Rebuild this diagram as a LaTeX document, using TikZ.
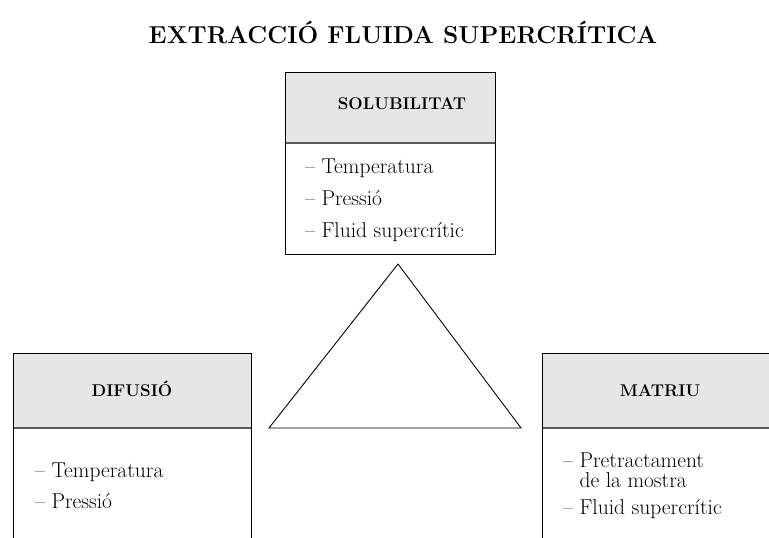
\documentclass[tikz,border=0pt]{standalone}
\usepackage{fontspec}
\definecolor{headgray}{RGB}{230,230,230}
\definecolor{sepgray}{RGB}{90,90,90}
\tikzset{
  border/.style={draw=black, line width=0.9pt},
  sepline/.style={draw=sepgray, line width=1.3pt},
  headfill/.style={fill=headgray},
  titletext/.style={anchor=base, inner sep=0pt, font=\fontsize{24.5}{28}\selectfont\bfseries},
  headtext/.style={anchor=base, inner sep=0pt, font=\fontsize{17}{20}\selectfont\bfseries},
  itemtext/.style={anchor=base west, inner sep=0pt, font=\fontsize{21.5}{24}\selectfont},
  tri/.style={draw=black, line width=0.9pt, line join=miter}
}
\begin{document}
\begin{tikzpicture}[x=1pt,y=-1pt]
\useasboundingbox (0,0) rectangle (769,538);

% title
\node[titletext] (title) at (403,43) {EXTRACCIÓ FLUIDA SUPERCRÍTICA};

% top box
\path[headfill] (285,72) rectangle (495,143);
\draw[sepline] (285,143) -- (495,143);
\draw[border] (285,72) rectangle (495,254);
\node[headtext] (solub) at (402,109) {SOLUBILITAT};
\node[itemtext] (s1) at (305,173) {– Temperatura};
\node[itemtext] (s2) at (305,205) {– Pressió};
\node[itemtext] (s3) at (305,237) {– Fluid supercrític};

% left box
\path[headfill] (13,353) rectangle (251,428);
\draw[sepline] (13,428) -- (251,428);
\draw[border] (13,538) -- (13,353) -- (251,353) -- (251,538);
\node[headtext] (difu) at (132,396) {DIFUSIÓ};
\node[itemtext] (d1) at (35,477) {– Temperatura};
\node[itemtext] (d2) at (35,508) {– Pressió};

% right box
\path[headfill] (542,353) rectangle (769,428);
\draw[sepline] (542,428) -- (769,428);
\draw[border] (542,538) -- (542,353) -- (769,353);
\node[headtext] (matr) at (660,396) {MATRIU};
\node[itemtext] (m1) at (563,467) {– Pretractament};
\node[itemtext] (m2) at (563,487) {\phantom{– }de la mostra};
\node[itemtext] (m3) at (563,514) {– Fluid supercrític};

% triangle
\coordinate (apex) at (398,264);
\coordinate (bl) at (269,428);
\coordinate (br) at (521,428);
\draw[tri] (apex) -- (br) -- (bl) -- cycle;
\end{tikzpicture}
\end{document}
